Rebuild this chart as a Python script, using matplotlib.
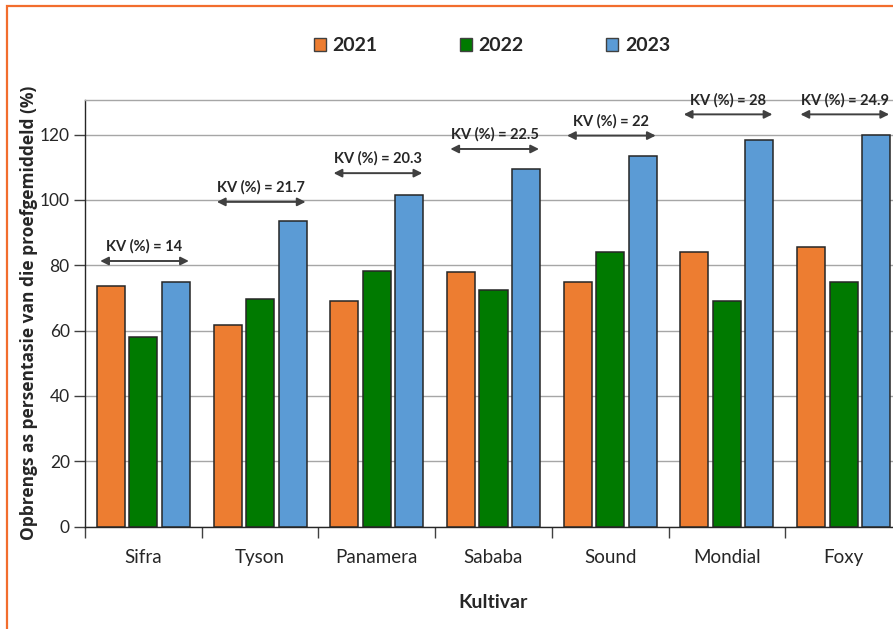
import matplotlib
matplotlib.use("Agg")
import matplotlib.pyplot as plt
from matplotlib.patches import Rectangle, Patch
import numpy as np

categories = ["Sifra", "Tyson", "Panamera", "Sababa", "Sound", "Mondial", "Foxy"]
years = ["2021", "2022", "2023"]
v2021 = [73.7, 61.7, 68.9, 78.0, 74.9, 84.2, 85.6]
v2022 = [58.0, 69.8, 78.2, 72.4, 84.2, 68.9, 74.9]
v2023 = [74.9, 93.4, 101.6, 109.5, 113.6, 118.4, 119.9]
kv_labels = ["14", "21.7", "20.3", "22.5", "22", "28", "24.9"]
kv_heights = [81.3, 99.4, 108.2, 115.6, 119.7, 126.2, 126.2]
yticks = [0, 20, 40, 60, 80, 100, 120]

colors = ["#ED7D31", "#007A00", "#5B9BD5"]
W, H = 893, 629
fig = plt.figure(figsize=(W / 100, H / 100), dpi=100)
ax = fig.add_axes([85 / W, 1 - 526.5 / H, 817 / W, 426.5 / H])

x = np.arange(len(categories))
width = 0.24
step = 0.2786
for i, vals in enumerate([v2021, v2022, v2023]):
    ax.bar(x + (i - 1) * step, vals, width, color=colors[i], edgecolor="#262626",
           linewidth=1.1, zorder=3)

ax.set_xlim(-0.5, len(categories) - 0.5)
ax.set_ylim(0, 130.6)
ax.set_yticks(yticks)
ax.set_yticklabels([str(t) for t in yticks], fontsize=12.5, color="#262626", family="Lato")
ax.set_xticks(x)
ax.set_xticklabels(categories, fontsize=13.5, color="#262626", family="Lato")
ax.set_xticks(np.arange(len(categories) + 1) - 0.5, minor=True)
ax.tick_params(axis="x", which="major", length=0, pad=16)
ax.tick_params(axis="x", which="minor", length=8, color="#404040", width=1)
ax.tick_params(axis="y", length=8, color="#404040", width=1, pad=3)
ax.yaxis.grid(True, color="#A6A6A6", linewidth=1, zorder=0)
ax.set_axisbelow(True)
for s in ["left", "bottom"]:
    ax.spines[s].set_color("#262626")
    ax.spines[s].set_linewidth(1)
for s in ["top", "right"]:
    ax.spines[s].set_color("#A6A6A6")
    ax.spines[s].set_linewidth(1)

# KV annotations
for xi, lab, h in zip(x, kv_labels, kv_heights):
    ax.annotate("", xy=(xi - 0.37, h), xytext=(xi + 0.39, h),
                arrowprops=dict(arrowstyle="<|-|>", color="#404040", lw=1.4,
                                mutation_scale=12, shrinkA=0, shrinkB=0), zorder=5)
    ax.text(xi + 0.01, h + 4.4, f"KV (%) = {lab}", ha="center", va="center",
            fontsize=10.5, fontweight="bold", color="#262626", family="Lato", zorder=5)

ax.set_xlabel("Kultivar", fontsize=14, fontweight="bold", family="Lato",
              color="#262626", labelpad=20)
ax.set_ylabel("Opbrengs as persentasie van die proefgemiddeld (%)", fontsize=12.5,
              fontweight="bold", family="Open Sans", color="#262626")
ax.yaxis.set_label_coords(-0.058, 0.5)

handles = [Patch(facecolor=c, edgecolor="#404040", linewidth=1) for c in colors]
leg = fig.legend(handles, years, loc="center", bbox_to_anchor=(492 / W, 1 - 45.7 / H),
                 ncol=3, frameon=False, handlelength=0.6, handleheight=0.7,
                 handletextpad=0.35, columnspacing=4.25,
                 prop=dict(family="Lato", weight="bold", size=14))
for t in leg.get_texts():
    t.set_color("#262626")

# orange frame
fig.patches.append(Rectangle((7 / W, -0.1), 1.2, 1.1 - 6 / H, transform=fig.transFigure,
                             fill=False, edgecolor="#F26D2D", linewidth=1.6,
                             clip_on=False))

fig.savefig("out.png", dpi=100)
